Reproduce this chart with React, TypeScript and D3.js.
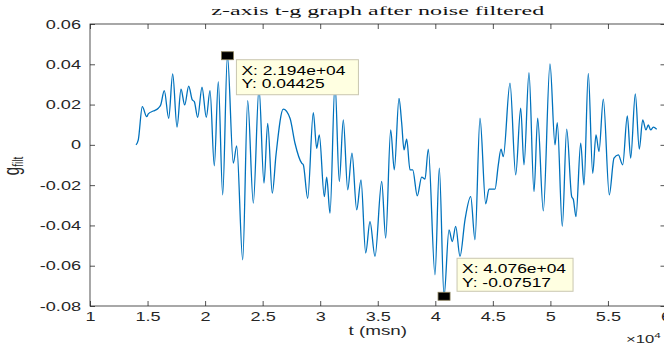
import * as d3 from 'd3'
import React, { useEffect, useRef } from 'react'

// time samples (msn) and filtered g
const tValues = [
  14000, 14196, 14544, 14926, 15065, 15500, 15934, 16142, 16455, 16837,
  17185, 17559, 17906, 18228, 18575, 18888, 19062, 19357, 19731, 20104,
  20426, 20799, 21147, 21529, 21940, 22450, 22745, 23267, 23701, 24188,
  24683, 25117, 25439, 25838, 26160, 26794, 27376, 27810, 28393, 28532,
  28914, 29400, 29696, 29922, 30356, 30565, 30851, 31286, 31659, 32007,
  32389, 32763, 33171, 33544, 33953, 34326, 34761, 35343, 35690, 36125,
  36438, 36846, 37081, 37280, 37515, 37802, 38036, 38436, 38818, 39105,
  39392, 39974, 40348, 40760, 41190, 41477, 41772, 42146, 42580, 43076,
  43449, 43883, 44379, 44665, 45186, 45474, 45708, 45907, 46490, 46985,
  47419, 47706, 48140, 48575, 48896, 49383, 49965, 50400, 50599, 51033,
  51416, 51850, 51989, 52224, 52632, 52919, 53292, 53675, 53961, 54222,
  54596, 55117, 55525, 55899, 56281, 56681, 56976, 57376, 57723, 58019,
  58305, 58505, 58713, 58940, 59235,
]
const gValues = [
  0.0, 0.0025, 0.019, 0.014, 0.0154, 0.0168, 0.0182, 0.0198, 0.0269, 0.0132,
  0.0352, 0.0088, 0.0276, 0.0198, 0.0292, 0.0223, 0.0215, 0.0137, 0.0286, 0.0137,
  0.0269, -0.0104, 0.0314, -0.0248, 0.04425, -0.0091, -0.0005, -0.0571, 0.022, -0.0289,
  0.0281, -0.019, 0.0107, -0.024, -0.005, 0.0177, 0.0132, 0.0008, -0.0091, -0.0099,
  -0.0265, 0.016, -0.0017, 0.0049, -0.0257, -0.016, -0.0339, 0.0306, -0.0182, 0.0124,
  -0.0223, -0.0041, -0.0323, -0.0174, -0.0537, -0.0381, -0.0554, -0.0182, -0.0463, 0.0074,
  -0.0124, 0.0231, 0.0107, -0.0025, 0.0028, -0.0124, -0.0124, -0.0253, -0.016, -0.017,
  -0.0021, -0.0645, -0.0116, -0.07517, -0.0422, -0.048, -0.0405, -0.0554, -0.0372, -0.0257,
  -0.0471, 0.0132, -0.0293, -0.022, -0.022, -0.0099, -0.0021, -0.0058, 0.0306, -0.0149,
  0.0182, -0.0099, 0.0358, -0.0232, 0.0132, -0.0328, 0.0402, 0.0, 0.011, -0.0405,
  0.0078, -0.0257, -0.027, -0.0356, 0.0008, -0.0199, 0.0355, -0.0141, 0.0049, -0.0033,
  0.0227, -0.0248, -0.0066, -0.005, -0.0099, 0.0144, -0.0066, 0.0253, -0.0021, 0.0124,
  0.0074, 0.0099, 0.0074, 0.0088, 0.0078,
]

const xTicks = [10000, 15000, 20000, 25000, 30000, 35000, 40000, 45000, 50000, 55000, 60000]
const xTickLabels = ['1', '1.5', '2', '2.5', '3', '3.5', '4', '4.5', '5', '5.5', '6']
const yTicks = [-0.08, -0.06, -0.04, -0.02, 0, 0.02, 0.04, 0.06]
const yTickLabels = ['-0.08', '-0.06', '-0.04', '-0.02', '0', '0.02', '0.04', '0.06']

const tipT = [21940, 40760]
const tipG = [0.04425, -0.07517]
const tipLines = [
  ['X: 2.194e+04', 'Y: 0.04425'],
  ['X: 4.076e+04', 'Y: -0.07517'],
]

const W = 664
const H = 349
const SX = 1.45 // the source picture is stretched sideways
const SANS = '"Liberation Sans", Arial, Helvetica, sans-serif'

export default function App() {
  const ref = useRef<SVGSVGElement>(null)

  useEffect(() => {
    const svg = d3.select(ref.current)
    svg.selectAll('*').remove()

    const left = 90, right = 665.5, top = 24, bottom = 306

    const x = d3.scaleLinear().domain([10000, 60000]).range([left, right])
    const y = d3.scaleLinear().domain([-0.08, 0.06]).range([bottom, top])

    svg.append('rect')
      .attr('width', W).attr('height', H).attr('fill', '#fff')

    svg.append('defs').append('clipPath').attr('id', 'plot-clip')
      .append('rect')
      .attr('x', left).attr('y', top)
      .attr('width', right - left).attr('height', bottom - top)

    // title
    svg.append('text')
      .attr('x', (left + right) / 2)
      .attr('y', 15)
      .attr('text-anchor', 'middle')
      .attr('font-family', '"Liberation Serif", "Times New Roman", serif')
      .attr('font-size', 13)
      .attr('textLength', 333)
      .attr('lengthAdjust', 'spacingAndGlyphs')
      .attr('fill', '#111')
      .text('z-axis t-g graph after noise filtered')

    const styleAxis = (g: any) => {
      g.select('.domain').remove()
      g.selectAll('line').attr('stroke', '#262626').attr('stroke-width', 0.8)
      g.selectAll('text')
        .attr('fill', '#262626')
        .attr('font-family', SANS)
        .attr('font-size', 12.5)
    }

    // bottom axis
    const xAxis = svg.append('g')
      .attr('transform', `translate(0,${bottom})`)
      .call(d3.axisBottom(x).tickValues(xTicks).tickSize(-5).tickPadding(6)
        .tickFormat((d, i) => xTickLabels[i]))
    styleAxis(xAxis)
    xAxis.selectAll('text').attr('transform', `scale(${SX},1)`)

    svg.append('g')
      .attr('transform', `translate(0,${top})`)
      .call(d3.axisTop(x).tickValues(xTicks).tickSize(-5).tickFormat(() => ''))
      .call(styleAxis)

    // left axis
    const yAxis = svg.append('g')
      .attr('transform', `translate(${left},0)`)
      .call(d3.axisLeft(y).tickValues(yTicks).tickSize(-5)
        .tickFormat((d, i) => yTickLabels[i]))
    styleAxis(yAxis)
    yAxis.selectAll('text')
      .attr('x', -9 / SX)
      .attr('transform', `scale(${SX},1)`)

    svg.append('g')
      .attr('transform', `translate(${right},0)`)
      .call(d3.axisRight(y).tickValues(yTicks).tickSize(-5).tickFormat(() => ''))
      .call(styleAxis)

    // box
    svg.append('rect')
      .attr('x', left).attr('y', top)
      .attr('width', right - left).attr('height', bottom - top)
      .attr('fill', 'none')
      .attr('stroke', '#262626')
      .attr('stroke-width', 0.8)

    // signal
    const pts: [number, number][] = tValues.map((t, i) => [t, gValues[i]])
    const line = d3.line<[number, number]>()
      .x(d => x(d[0]))
      .y(d => y(d[1]))
      .curve(d3.curveMonotoneX)

    svg.append('path')
      .datum(pts)
      .attr('clip-path', 'url(#plot-clip)')
      .attr('d', line)
      .attr('fill', 'none')
      .attr('stroke', '#0072BD')
      .attr('stroke-width', 1.3)
      .attr('stroke-linejoin', 'round')

    // axis labels
    svg.append('text')
      .attr('transform', `translate(${(left + right) / 2},335) scale(${SX},1)`)
      .attr('text-anchor', 'middle')
      .attr('font-family', SANS)
      .attr('font-size', 13)
      .attr('fill', '#262626')
      .text('t (msn)')

    const yl = svg.append('text')
      .attr('transform', `translate(19,166) scale(${SX},1) rotate(-90)`)
      .attr('text-anchor', 'middle')
      .attr('font-family', SANS)
      .attr('font-size', 15)
      .attr('fill', '#262626')
    yl.append('tspan').text('g')
    yl.append('tspan').attr('font-size', 10).attr('dy', 3).text('filt')

    const ex = svg.append('text')
      .attr('transform', `translate(626,343) scale(${SX},1)`)
      .attr('font-family', SANS)
      .attr('font-size', 11.5)
      .attr('fill', '#262626')
    ex.append('tspan').text('\u00d710')
    ex.append('tspan').attr('font-size', 8).attr('dy', -5).text('4')

    // data tips
    const boxes = [
      { dx: 9, dy: 4, w: 122, h: 35 },
      { dx: 13, dy: -38, w: 116, h: 33 },
    ]
    tipT.forEach((t, i) => {
      const px = x(t), py = y(tipG[i])
      const b = boxes[i]
      const g = svg.append('g')
      g.append('rect')
        .attr('x', px + b.dx).attr('y', py + b.dy)
        .attr('width', b.w).attr('height', b.h)
        .attr('fill', '#ffffe1')
        .attr('stroke', '#c9c6b0')
        .attr('stroke-width', 1)
      tipLines[i].forEach((s, j) => {
        g.append('text')
          .attr('transform', `translate(${px + b.dx + 5},${py + b.dy + 15 + j * 13.5}) scale(${SX},1)`)
          .attr('font-family', SANS)
          .attr('font-size', 12)
          .attr('fill', '#000')
          .text(s)
      })
      g.append('rect')
        .attr('x', px - 6).attr('y', py - 4)
        .attr('width', 12).attr('height', 8)
        .attr('fill', '#000')
        .attr('stroke', '#8a7f5a')
        .attr('stroke-width', 0.8)
    })
  }, [])

  return (
    <svg
      ref={ref}
      width={W}
      height={H}
      style={{ position: 'absolute', left: 0, top: 0, display: 'block' }}
    />
  )
}
